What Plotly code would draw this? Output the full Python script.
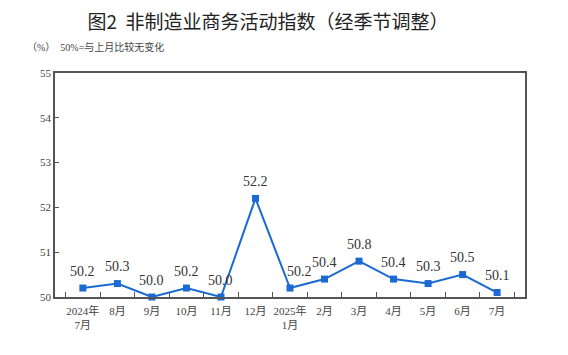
import plotly.graph_objects as go

categories = ["2024年<br>7月", "8月", "9月", "10月", "11月", "12月", "2025年<br>1月",
              "2月", "3月", "4月", "5月", "6月", "7月"]
values = [50.2, 50.3, 50.0, 50.2, 50.0, 52.2, 50.2, 50.4, 50.8, 50.4, 50.3, 50.5, 50.1]
y_ticks = [50, 51, 52, 53, 54, 55]
label_xshift = [0, 0, 0, 0, 0, 0, 9, 0, 0, 0, 0, 0, 0]

blue = "#1a6ad2"
serif = "Times New Roman, Liberation Serif, serif"

fig = go.Figure()
fig.add_trace(go.Scatter(
    x=categories, y=values, mode="lines+markers",
    line=dict(color=blue, width=2),
    marker=dict(symbol="square", size=7, color=blue),
    cliponaxis=False, hoverinfo="skip",
))

for c, v, dx in zip(categories, values, label_xshift):
    fig.add_annotation(x=c, y=v, text=f"{v:.1f}", showarrow=False,
                       yshift=17, xshift=dx,
                       font=dict(family=serif, size=14, color="#333333"))

fig.add_annotation(xref="paper", yref="paper", x=-0.064, y=1.116, xanchor="left",
                   yanchor="middle", showarrow=False,
                   text="（%）  50%=与上月比较无变化",
                   font=dict(family=serif + ", Noto Sans CJK SC", size=10, color="#444444"))

fig.update_layout(
    width=568, height=355,
    margin=dict(l=55, r=43, t=73, b=58, autoexpand=False),
    paper_bgcolor="white", plot_bgcolor="white",
    showlegend=False,
    title=dict(text="图2  非制造业商务活动指数（经季节调整）",
               x=0.472, xanchor="center", y=0.938, yanchor="middle",
               font=dict(family="Noto Sans CJK SC", size=19, color="#222222")),
    xaxis=dict(type="category", tickson="boundaries", ticks="inside", ticklen=5,
               tickangle=0, automargin=False, ticklabelstandoff=3,
               tickcolor="#555555", showline=True, linecolor="#555555", linewidth=1.5,
               mirror=True, showgrid=False,
               tickfont=dict(family=serif + ", Noto Sans CJK SC", size=11, color="#444444")),
    yaxis=dict(range=[50, 55], tickvals=y_ticks, ticks="inside", ticklen=4,
               automargin=False,
               tickcolor="#555555", showline=True, linecolor="#555555", linewidth=1.5,
               mirror=True, showgrid=False, zeroline=False,
               tickfont=dict(family=serif, size=11, color="#444444")),
)

fig.write_html("out.html", config={"responsive": False, "displayModeBar": False},
               post_script="document.body.style.margin='0';document.body.style.overflow='hidden';")
